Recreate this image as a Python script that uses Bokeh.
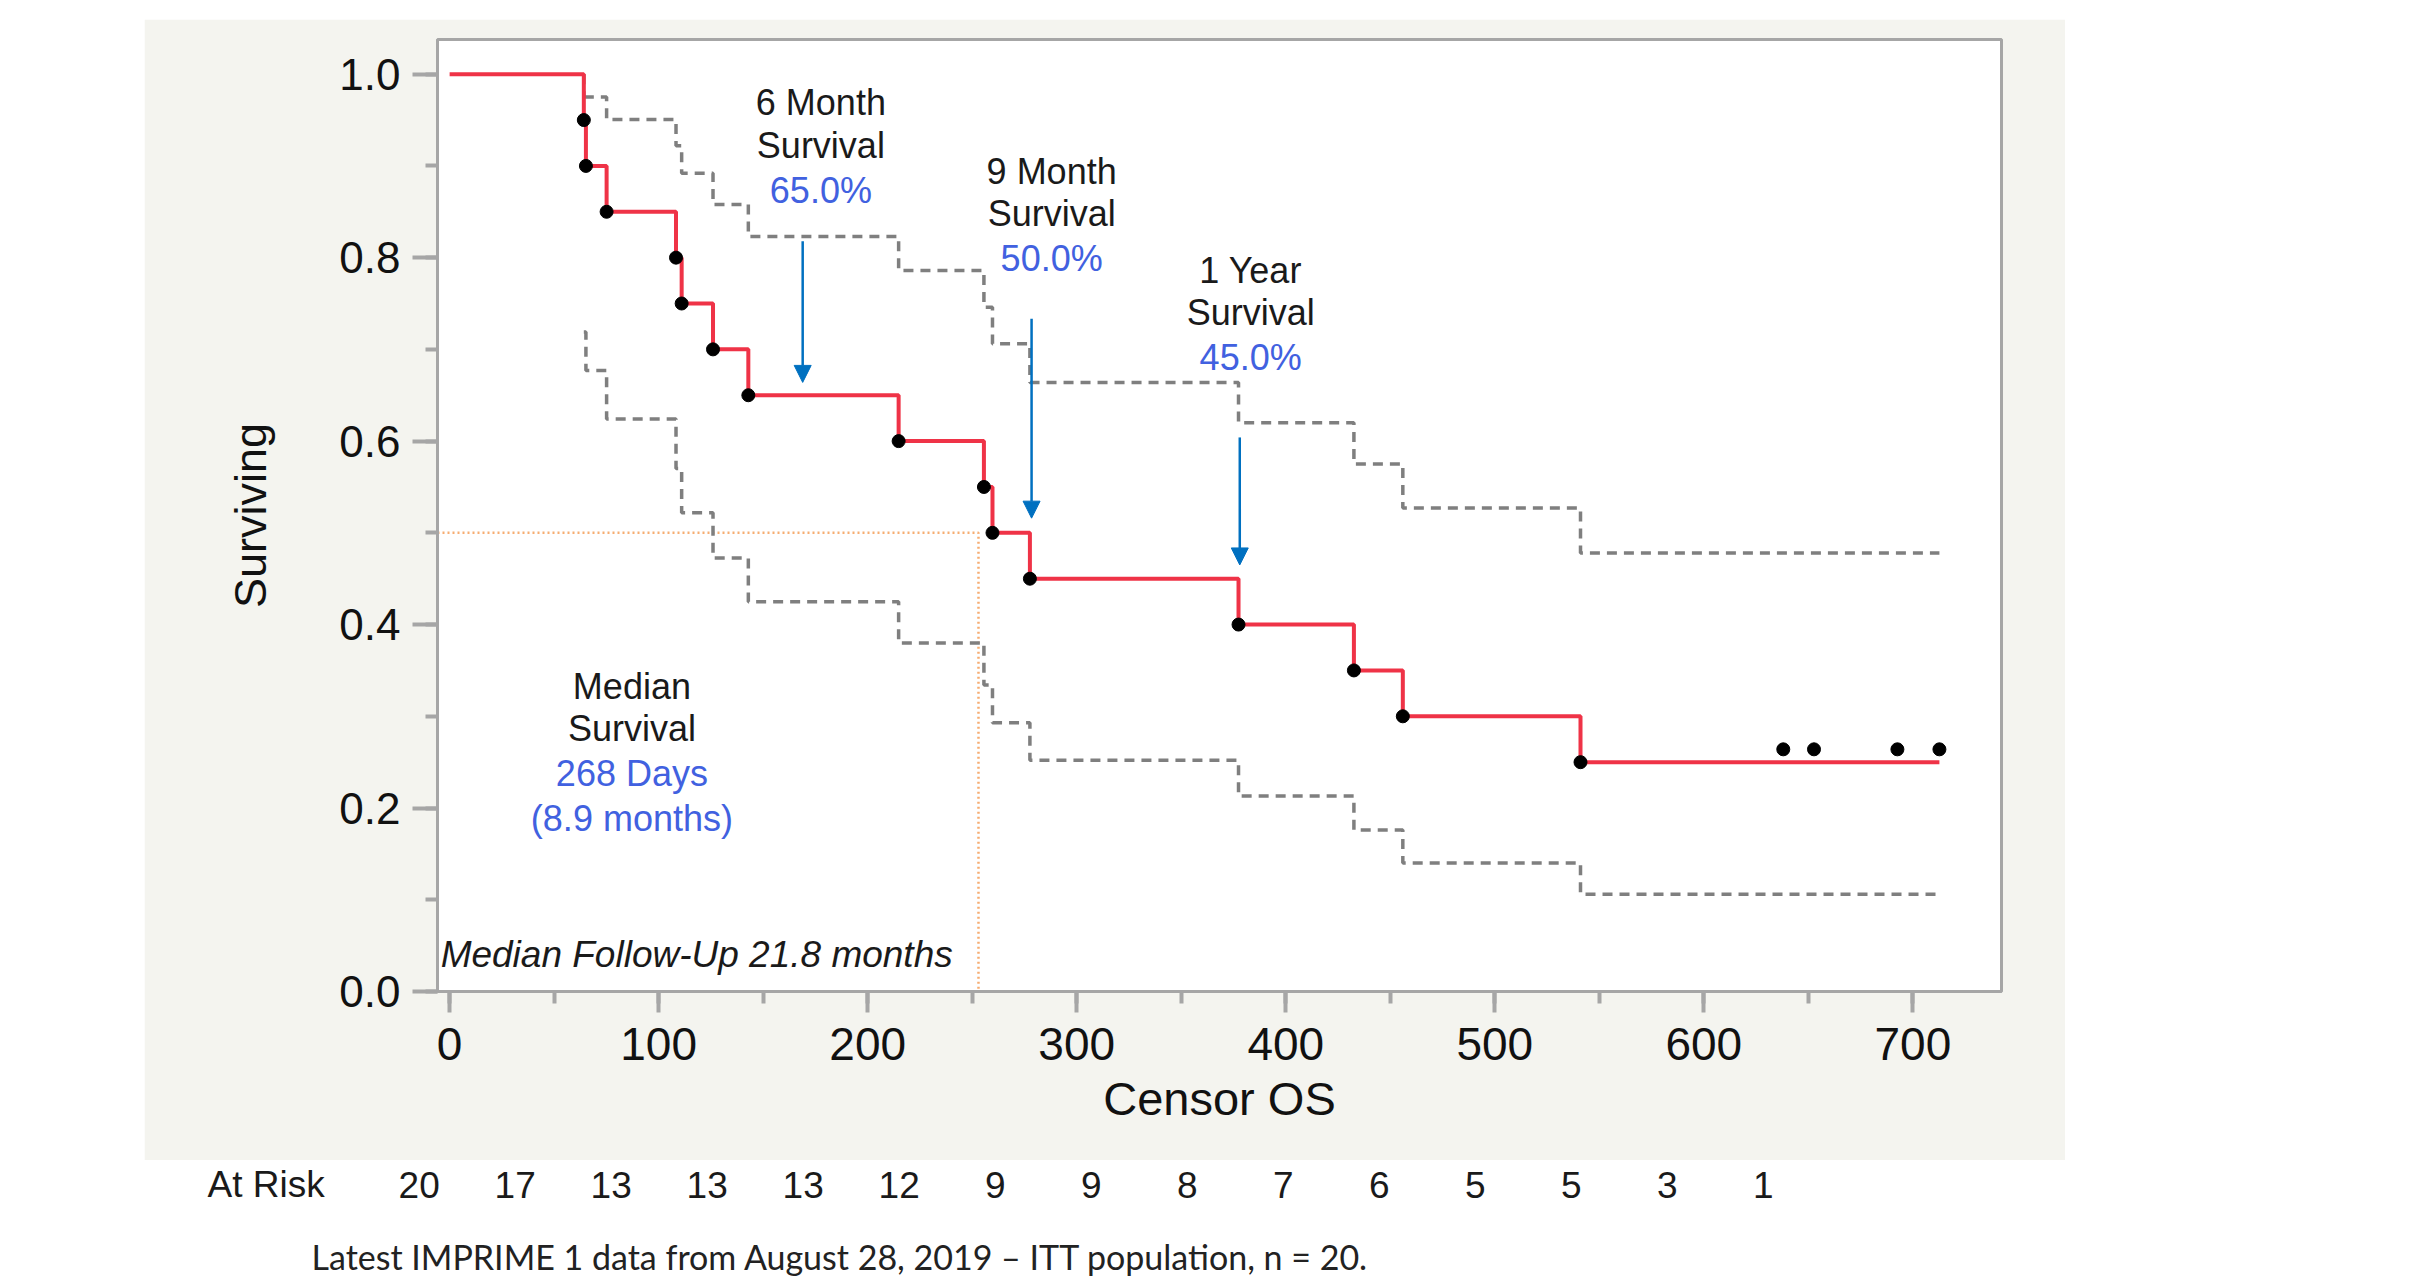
from bokeh.plotting import figure
from bokeh.models import (Range1d, SingleIntervalTicker, NumeralTickFormatter,
                          Arrow, NormalHead, ColumnDataSource, Spacer)
from bokeh.layouts import column, row
from bokeh.core.properties import value
from bokeh.embed import file_html
from bokeh.resources import INLINE

# ---------------- data ----------------
event_days = [64.2, 65.2, 75.1, 108.3, 111.0, 126.0, 142.9, 214.8, 255.6,
              259.7, 277.6, 377.4, 432.6, 456.0, 541.0]
survival = [0.95, 0.90, 0.85, 0.80, 0.75, 0.70, 0.65, 0.60, 0.55,
            0.50, 0.45, 0.40, 0.35, 0.30, 0.25]
last_day = 712.7

upper_ci = [0.975, 0.975, 0.9506, 0.922, 0.892, 0.858, 0.823, 0.786, 0.746,
            0.706, 0.664, 0.620, 0.575, 0.527, 0.478]
lower_ci = [0.719, 0.677, 0.624, 0.570, 0.522, 0.4725, 0.425, 0.380, 0.334,
            0.293, 0.252, 0.213, 0.176, 0.140, 0.106]

censored_days = [638.0, 652.7, 692.6, 712.7]
censored_mark = 0.264

median_day_line = 253.0
median_level = 0.5

milestone_days = [168.9, 278.4, 378.0]
milestone_arrow_top = [0.818, 0.7335, 0.604]
milestone_arrow_tip = [0.664, 0.516, 0.465]

at_risk = ["20", "17", "13", "13", "13", "12", "9", "9", "8", "7", "6",
           "5", "5", "3", "1"]

x_ticks_step = 100
y_ticks_step = 0.2

# ---------------- styling ----------------
FONT = "Liberation Sans"
PANEL = "#f4f4ef"
AXIS_GREY = "#a6a6a6"
RED = "#ef3347"
BAND = "#7f7f7f"
ARROW_BLUE = "#0070c0"
TEXT_BLUE = "#4161e0"
ORANGE = "#f6ad72"

X0, X1 = -5.8, 742.4
Y0, Y1 = 0.0, 1.0378

p = figure(width=1921, height=1141, output_backend="svg", toolbar_location=None,
           x_range=Range1d(X0, X1), y_range=Range1d(Y0, Y1),
           min_border_left=293, min_border_right=64,
           min_border_top=20, min_border_bottom=169)
p.background_fill_color = "white"
p.border_fill_color = PANEL
p.outline_line_color = AXIS_GREY
p.outline_line_width = 3
p.grid.visible = False

p.xaxis.ticker = SingleIntervalTicker(interval=x_ticks_step, num_minor_ticks=2)
p.yaxis.ticker = SingleIntervalTicker(interval=y_ticks_step, num_minor_ticks=2)
p.xaxis.formatter = NumeralTickFormatter(format="0")
p.yaxis.formatter = NumeralTickFormatter(format="0.0")

for ax in (p.xaxis[0], p.yaxis[0]):
    ax.axis_line_color = AXIS_GREY
    ax.axis_line_width = 3
    ax.major_tick_line_color = AXIS_GREY
    ax.minor_tick_line_color = AXIS_GREY
    ax.major_tick_line_width = 4
    ax.minor_tick_line_width = 4
    ax.major_tick_in = 0
    ax.minor_tick_in = 0
    ax.minor_tick_out = 12
    ax.major_label_text_font = FONT
    ax.major_label_text_color = "#111111"
    ax.axis_label_text_font = FONT
    ax.axis_label_text_font_style = "normal"
    ax.axis_label_text_color = "#111111"

p.xaxis.major_tick_out = 21
p.yaxis.major_tick_out = 25
p.xaxis.major_label_text_font_size = "46px"
p.yaxis.major_label_text_font_size = "44px"
p.xaxis.major_label_standoff = 15
p.yaxis.major_label_standoff = 12
p.xaxis.axis_label = "Censor OS"
p.yaxis.axis_label = "Surviving"
p.xaxis.axis_label_text_font_size = "47px"
p.yaxis.axis_label_text_font_size = "45px"
p.xaxis.axis_label_standoff = 9
p.yaxis.axis_label_standoff = 60

# median reference lines
p.line([X0, median_day_line, median_day_line], [median_level, median_level, 0],
       line_color=ORANGE, line_width=2.5, line_dash="2 3")

# confidence band
p.step(event_days + [last_day], upper_ci + [upper_ci[-1]], mode="after",
       line_color=BAND, line_width=3.5, line_dash="10 7")
p.step(event_days + [last_day], lower_ci + [lower_ci[-1]], mode="after",
       line_color=BAND, line_width=3.5, line_dash="10 7")
p.line([event_days[0], event_days[0]], [1.0, upper_ci[0]],
       line_color=BAND, line_width=3.5, line_dash="10 7")

# Kaplan-Meier curve
p.step([0] + event_days + [last_day], [1.0] + survival + [survival[-1]],
       mode="after", line_color=RED, line_width=4)
p.scatter(event_days, survival, size=13, color="black")
p.scatter(censored_days, [censored_mark] * len(censored_days), size=13, color="black")

# arrows
for xd, yt, yb in zip(milestone_days, milestone_arrow_top, milestone_arrow_tip):
    p.add_layout(Arrow(end=NormalHead(size=17, fill_color=ARROW_BLUE,
                                      line_color=ARROW_BLUE),
                       x_start=xd, y_start=yt, x_end=xd, y_end=yb,
                       line_color=ARROW_BLUE, line_width=2.5))

# annotation texts
ann = ColumnDataSource(dict(
    x=[177.6, 177.6, 177.6, 288.0, 288.0, 288.0, 383.2, 383.2, 383.2,
       87.2, 87.2, 87.2, 87.2],
    y=[0.9688, 0.9222, 0.8734, 0.8943, 0.8481, 0.7995, 0.7864, 0.7400, 0.6916,
       0.3325, 0.2869, 0.2376, 0.1884],
    text=["6 Month", "Survival", "65.0%", "9 Month", "Survival", "50.0%",
          "1 Year", "Survival", "45.0%",
          "Median", "Survival", "268 Days", "(8.9 months)"],
    color=["#1a1a1a", "#1a1a1a", TEXT_BLUE, "#1a1a1a", "#1a1a1a", TEXT_BLUE,
           "#1a1a1a", "#1a1a1a", TEXT_BLUE,
           "#1a1a1a", "#1a1a1a", TEXT_BLUE, TEXT_BLUE],
))
p.text(x="x", y="y", text="text", text_color="color", source=ann,
       text_font=value(FONT), text_font_size="36px",
       text_align="center", text_baseline="middle")

p.text(x=[-4.3], y=[0.0398], text=["Median Follow-Up 21.8 months"],
       text_font=value(FONT), text_font_size="37px", text_font_style="italic",
       text_color="#1a1a1a", text_align="left", text_baseline="middle")

# ---------------- at-risk row and footnote ----------------
RW, RH = 2436, 120
r = figure(width=RW, height=RH, output_backend="svg", toolbar_location=None,
           x_range=Range1d(0, RW), y_range=Range1d(RH, 0),
           min_border=0, x_axis_type=None, y_axis_type=None)
r.grid.visible = False
r.outline_line_color = None
r.background_fill_color = "white"
r.border_fill_color = "white"

r.text(x=[207], y=[24], text=["At Risk"], text_font=value(FONT),
       text_font_size="37px", text_color="#1a1a1a",
       text_align="left", text_baseline="middle")
risk_x0, risk_dx = 418.7, 96.0
r.text(x=[risk_x0 + i * risk_dx for i in range(len(at_risk))],
       y=[24] * len(at_risk), text=at_risk, text_font=value(FONT),
       text_font_size="37px", text_color="#1a1a1a",
       text_align="center", text_baseline="middle")
r.text(x=[311], y=[96],
       text=["Latest IMPRIME 1 data from August 28, 2019 \u2013 ITT population, n = 20."],
       text_font=value("Lato"), text_font_size="34px", text_color="#222222",
       text_align="left", text_baseline="middle")

layout = column(Spacer(width=10, height=19),
                row(Spacer(width=144, height=1141), p),
                r)

open("out.html", "w").write(file_html(layout, INLINE))
